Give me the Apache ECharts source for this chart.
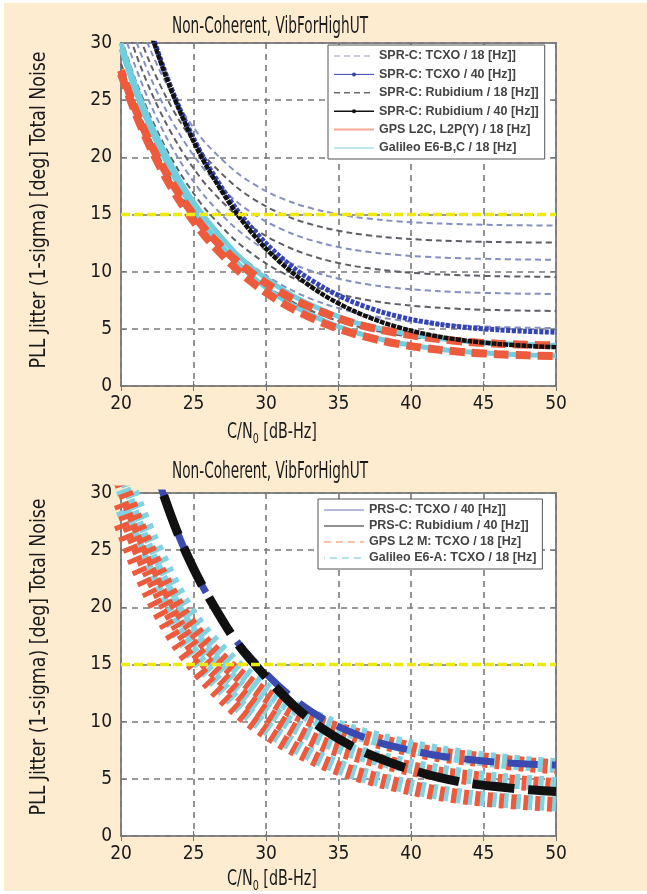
<!DOCTYPE html>
<html><head><meta charset="utf-8">
<script src="https://cdn.jsdelivr.net/npm/echarts@6/dist/echarts.min.js"></script>
<style>
html,body{margin:0;padding:0;background:#fff;}
#bg{position:absolute;left:4px;top:3px;width:643px;height:888px;background:#feecd1;}
#chart{position:absolute;left:0;top:0;width:647px;height:894px;}
</style></head>
<body><div id="bg"></div><div id="chart"></div>
<script>
// ---------- data ----------
const cn0 = [20,21,22,23,24,25,26,28,30,32,34,36,38,40,42,44,46,48,50];
const xTicks = [20,25,30,35,40,45,50];
const yTicks = [0,5,10,15,20,25,30];
const threshold = 15;

// top chart
const sprTcxo18 = [
  [29.32,25.70,22.64,20.04,17.81,15.90,14.25,11.62,9.67,8.23,7.20,6.47,5.97,5.63,5.40,5.26,5.16,5.10,5.07],
  [31.66,27.90,24.74,22.07,19.81,17.89,16.26,13.70,11.87,10.59,9.71,9.11,8.71,8.46,8.29,8.18,8.12,8.07,8.05],
  [34.2,30.33,27.09,24.38,22.10,20.18,18.57,16.10,14.39,13.22,12.44,11.92,11.59,11.38,11.24,11.15,11.10,11.06,11.04],
  [36.72,32.77,29.48,26.76,24.48,22.6,21.02,18.65,17.04,15.97,15.27,14.81,14.52,14.33,14.21,14.13,14.08,14.05,14.03]
];
const sprRb18 = [
  [28.2,24.67,21.67,19.12,16.92,15.04,13.39,10.75,8.75,7.24,6.12,5.30,4.71,4.30,4.02,3.84,3.72,3.64,3.59],
  [30.47,26.78,23.67,21.03,18.78,16.86,15.21,12.61,10.72,9.37,8.42,7.75,7.32,7.03,6.84,6.71,6.64,6.59,6.56],
  [32.98,29.15,25.94,23.24,20.96,19.04,17.41,14.89,13.12,11.89,11.06,10.51,10.15,9.91,9.76,9.67,9.60,9.57,9.54],
  [35.45,31.54,28.27,25.55,23.27,21.37,19.78,17.36,15.70,14.58,13.85,13.36,13.05,12.85,12.72,12.64,12.59,12.56,12.54]
];
const sprTcxo40 = [40.8,35.65,31.3,27.6,24.4,21.66,19.27,15.4,12.47,10.24,8.58,7.35,6.46,5.83,5.39,5.10,4.91,4.78,4.70];
const sprRb40 = [40.6,35.5,31.1,27.4,24.2,21.4,19.0,15.05,12.0,9.72,7.94,6.59,5.58,4.84,4.30,3.93,3.68,3.51,3.40];
const gpsL2c18 = [
  [27.3,23.85,20.92,18.43,16.27,14.42,12.80,10.18,8.17,6.64,5.48,4.60,3.96,3.49,3.16,2.93,2.78,2.68,2.62],
  [27.6,24.2,21.3,18.9,16.8,15.0,13.4,10.9,9.0,7.5,6.4,5.5,4.9,4.45,4.1,3.85,3.7,3.6,3.55]
];
const galE6bc18 = [
  [29.5,25.8,22.6,19.9,17.5,15.5,13.7,10.8,8.6,6.95,5.7,4.75,4.07,3.57,3.22,2.98,2.82,2.71,2.65],
  [30.0,26.3,23.1,20.5,18.1,16.1,14.4,11.5,9.4,7.8,6.6,5.6,5.0,4.5,4.15,3.9,3.72,3.62,3.56]
];

// bottom chart
const prsTcxo40 = [44,38.5,33.5,29.6,26.2,23.4,21.0,17.0,14.2,11.9,10.2,9.0,8.1,7.5,7.0,6.7,6.45,6.3,6.2];
const prsRb40 = [44,38.5,33.5,29.6,26.2,23.4,21.0,16.9,13.9,11.3,9.3,7.8,6.7,5.8,5.1,4.6,4.3,4.05,3.9];
const gpsL2m18 = [
  [27.3,24.0,21.2,18.8,16.7,15.0,13.5,11.0,9.1,7.6,6.4,5.5,4.8,4.2,3.7,3.35,3.1,2.9,2.75],
  [29.1,25.8,23.0,20.5,18.3,16.5,15.0,12.6,10.7,9.2,8.0,7.2,6.5,5.9,5.4,5.1,4.8,4.6,4.4],
  [31,27.7,24.8,22.2,19.9,18.1,16.6,14.2,12.3,10.8,9.7,8.9,8.2,7.6,7.1,6.8,6.5,6.25,6.05]
];
const galE6a18 = [
  [29.0,25.6,22.6,20.0,17.8,15.9,14.3,11.6,9.5,7.9,6.6,5.6,4.9,4.3,3.8,3.4,3.15,2.95,2.8],
  [30.8,27.4,24.4,21.8,19.4,17.5,15.9,13.2,11.2,9.6,8.4,7.4,6.7,6.1,5.6,5.2,4.9,4.7,4.5],
  [32.5,29.2,26.2,23.5,21.0,19.0,17.4,14.8,12.8,11.2,10.0,9.1,8.4,7.8,7.3,6.9,6.6,6.35,6.15]
];

const titleText = 'Non-Coherent, VibForHighUT';
const yName = 'PLL Jitter (1-sigma) [deg] Total Noise';
const legendTop = ['SPR-C: TCXO / 18 [Hz]]','SPR-C: TCXO / 40 [Hz]]','SPR-C: Rubidium / 18 [Hz]]','SPR-C: Rubidium / 40 [Hz]]','GPS L2C, L2P(Y) / 18 [Hz]','Galileo E6-B,C / 18 [Hz]'];
const legendBot = ['PRS-C: TCXO / 40 [Hz]]','PRS-C: Rubidium / 40 [Hz]]','GPS L2 M: TCXO / 18 [Hz]','Galileo E6-A: TCXO / 18 [Hz]'];

// ---------- chart ----------
const FONT = '"DejaVu Sans Condensed","Liberation Sans Narrow","Liberation Sans",sans-serif';
const LFONT = '"Liberation Sans",Arial,sans-serif';
const pairs = arr => cn0.map((x,i)=>[x,arr[i]]);
const grids = [
  {left:121, top:43, width:435, height:343},
  {left:121, top:493, width:435, height:343}
];
const gridOpt = grids.map(g=>Object.assign({show:true, backgroundColor:'#fff', borderColor:'#858585', borderWidth:2, containLabel:false}, g));

function xAx(gi){
  return [{type:'value', gridIndex:gi, min:20, max:50, interval:5, position:'bottom',
    axisLine:{show:false}, axisTick:{show:true, inside:true, length:5, lineStyle:{color:'#777'}},
    axisLabel:{show:true, margin:9, fontFamily:FONT, fontSize:19, color:'#1a1a1a'},
    splitLine:{show:true, lineStyle:{color:'#7a7a7a', width:1.6, type:[6,5]}}},
   {type:'value', gridIndex:gi, min:20, max:50, interval:5, position:'top',
    axisLine:{show:false}, axisTick:{show:true, inside:true, length:5, lineStyle:{color:'#777'}},
    axisLabel:{show:false}, splitLine:{show:false}}];
}
function yAx(gi){
  return [{type:'value', gridIndex:gi, min:0, max:30, interval:5, position:'left',
    axisLine:{show:false}, axisTick:{show:true, inside:true, length:5, lineStyle:{color:'#777'}},
    axisLabel:{show:true, margin:9, fontFamily:FONT, fontSize:19, color:'#1a1a1a'},
    splitLine:{show:true, lineStyle:{color:'#7a7a7a', width:1.6, type:[6,5]}}},
   {type:'value', gridIndex:gi, min:0, max:30, interval:5, position:'right',
    axisLine:{show:false}, axisTick:{show:true, inside:true, length:5, lineStyle:{color:'#777'}},
    axisLabel:{show:false}, splitLine:{show:false}}];
}
const xAxes = [...xAx(0), ...xAx(1)];
const yAxes = [...yAx(0), ...yAx(1)];

function line(name, arr, gi, style, extra){
  return Object.assign({type:'line', name, data:pairs(arr), xAxisIndex:gi*2, yAxisIndex:gi*2,
    symbol:'none', smooth:0.3, clip:true, silent:true, animation:false, lineStyle:style}, extra||{});
}

const series = [];
// top chart
sprRb18.forEach(a=>series.push(line(legendTop[2], a, 0, {color:'#5e5e66', width:2, type:[6,4]})));
sprTcxo18.forEach(a=>series.push(line(legendTop[0], a, 0, {color:'#8590c0', width:2, type:[6,4]})));
galE6bc18.forEach(a=>series.push(line(legendTop[5], a, 0, {color:'#6fcfe0', width:5})));
gpsL2c18.forEach((a,i)=>series.push(line(legendTop[4], a, 0, {color:'#ee5a3c', width:8, type:[15,7], dashOffset:i*8})));
series.push(line(legendTop[1], sprTcxo40, 0, {color:'#3444b4', width:5, type:[4,1.5]}, {symbol:'circle', symbolSize:4, showSymbol:false, itemStyle:{color:'#3444b4'}}));
series.push(line(legendTop[3], sprRb40, 0, {color:'#111', width:4.5, type:[5,1]}, {symbol:'circle', symbolSize:4, showSymbol:false, itemStyle:{color:'#111'}}));
series.push({type:'line', name:'threshold', xAxisIndex:0, yAxisIndex:0, symbol:'none', silent:true, animation:false,
  data:[[20,threshold],[50,threshold]], lineStyle:{color:'#eeea10', width:3.5, type:[9,4]}});
// bottom chart
galE6a18.forEach(a=>series.push(line(legendBot[3], a, 1, {color:'#7fd3e3', width:15, type:[5,7], dashOffset:6})));
gpsL2m18.forEach(a=>series.push(line(legendBot[2], a, 1, {color:'#ee5a3c', width:15, type:[5,7]})));
series.push(line(legendBot[0], prsTcxo40, 1, {color:'#3a4ab0', width:7, type:[30,14], dashOffset:20}));
series.push(line(legendBot[1], prsRb40, 1, {color:'#111', width:9, type:[42,14]}));
series.push({type:'line', name:'threshold', xAxisIndex:2, yAxisIndex:2, symbol:'none', silent:true, animation:false,
  data:[[20,threshold],[50,threshold]], lineStyle:{color:'#eeea10', width:3.5, type:[9,4]}});

const legendCommon = {orient:'vertical', backgroundColor:'#fff', borderColor:'#555', borderWidth:1,
  itemWidth:40, itemHeight:5, selectedMode:false,
  textStyle:{fontFamily:LFONT, fontSize:12.5, fontWeight:'bold', color:'#444', lineHeight:14}};
const hide = {opacity:0};
const topLegData = [
  {name:legendTop[0], itemStyle:hide, lineStyle:{width:1, type:[6,4], color:'#8e99c6'}},
  {name:legendTop[1], itemStyle:{color:'#3444b4'}, lineStyle:{width:1, type:'solid', color:'#3444b4'}},
  {name:legendTop[2], itemStyle:hide, lineStyle:{width:1.5, type:[6,4], color:'#6a6a6a'}},
  {name:legendTop[3], itemStyle:{color:'#111'}, lineStyle:{width:1.5, type:'solid', color:'#111'}},
  {name:legendTop[4], itemStyle:hide, lineStyle:{width:2, type:'solid', color:'#f4a896'}},
  {name:legendTop[5], itemStyle:hide, lineStyle:{width:2, type:'solid', color:'#c4e6f0'}}
];
const botLegData = [
  {name:legendBot[0], itemStyle:hide, lineStyle:{width:1, type:'solid', color:'#6a78b4'}},
  {name:legendBot[1], itemStyle:hide, lineStyle:{width:1, type:'solid', color:'#222'}},
  {name:legendBot[2], itemStyle:hide, lineStyle:{width:2, type:[7,5], color:'#f6c2ac'}},
  {name:legendBot[3], itemStyle:hide, lineStyle:{width:2, type:[7,5], color:'#b6e0ea'}}
];

function txt(x,y,text,size,sx,rot){
  return {type:'text', x, y, rotation:rot||0, scaleX:sx, silent:true, z:100,
    style:{text, fontFamily:FONT, fontSize:size, fill:'#1a1a1a', align:'center', verticalAlign:'middle'}};
}
function xname(x,y){
  return {type:'text', x, y, scaleX:0.76, silent:true, z:100,
    style:{text:'C/N{s|0} [dB-Hz]', fontFamily:FONT, fontSize:21, fill:'#1a1a1a', align:'center', verticalAlign:'middle',
      rich:{s:{fontFamily:FONT, fontSize:14, fill:'#1a1a1a', padding:[12,0,0,0], verticalAlign:'bottom'}}}};
}

const chart = echarts.init(document.getElementById('chart'), null, {renderer:'canvas'});
chart.setOption({
  animation:false,
  backgroundColor:'transparent',
  grid: gridOpt,
  xAxis: xAxes,
  yAxis: yAxes,
  legend:[
    Object.assign({}, legendCommon, {left:328, top:45, padding:[4,6,4,5], itemGap:4.4, data:topLegData}),
    Object.assign({}, legendCommon, {left:318, top:499, padding:[4,6,4,5], itemGap:2, data:botLegData})
  ],
  graphic:[
    txt(270,27,titleText,23,0.66), txt(270,472,titleText,23,0.66),
    txt(40,210,yName,21,0.92,Math.PI/2), txt(40,657,yName,21,0.92,Math.PI/2),
    xname(272,433), xname(272,880)
  ],
  series
});
</script></body></html>
